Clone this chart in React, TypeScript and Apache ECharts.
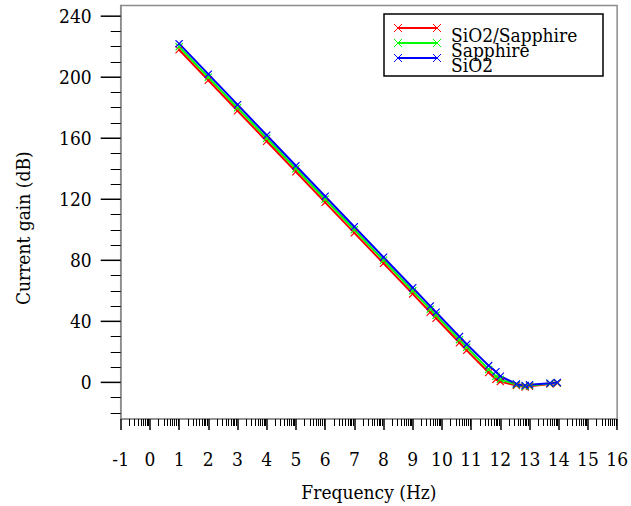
import React, { useEffect, useRef } from "react";
import * as echarts from "echarts";

const frequency = [1, 2, 3, 4, 5, 6, 7, 8, 9, 9.6, 9.8, 10.6, 10.85, 11.6, 11.85, 12.0, 12.55, 12.85, 13.0, 13.7, 13.95];
const siO2Sapphire = [218, 198, 178, 158, 138, 118, 98, 78, 58, 46, 42, 26, 21, 6.5, 2, 0.5, -2, -3, -2.5, -1, -0.5];
const sapphire = [220, 200, 180, 160, 140, 120, 100, 80, 60, 48, 44, 28, 23, 8.5, 4, 2, -1.5, -2.5, -2, -0.8, -0.2];
const siO2 = [222, 202, 182, 162, 142, 122, 102, 82, 62, 50, 46, 30, 25, 11, 7, 4, -1, -2, -1.5, -0.5, 0];

const seriesNames = ["SiO2/Sapphire", "Sapphire", "SiO2"];
const seriesColors = ["#ff0000", "#00ff00", "#0000ff"];

const yMajorTicks = [0, 40, 80, 120, 160, 200, 240];
const yMinorTicks = [-20, -10, 10, 20, 30, 50, 60, 70, 90, 100, 110, 130, 140, 150, 170, 180, 190, 210, 220, 230];
const xDecades = [-1, 0, 1, 2, 3, 4, 5, 6, 7, 8, 9, 10, 11, 12, 13, 14, 15];
const xMinorOffsets = [0.301, 0.477, 0.602, 0.699, 0.778, 0.845, 0.903, 0.954];
const xMinorTicks: number[] = [];
xDecades.forEach((d) => xMinorOffsets.forEach((o) => xMinorTicks.push(d + o)));

const FONT = "DejaVu Serif Condensed, DejaVu Serif";
const FS = 19;
const XMARK = "path://M0,1L1,0L5,4L9,0L10,1L6,5L10,9L9,10L5,6L1,10L0,9L4,5Z";

export default function App() {
  const ref = useRef<HTMLDivElement>(null);
  useEffect(() => {
    if (!ref.current) return;
    const chart = echarts.init(ref.current, undefined, { renderer: "svg" });
    const allSeries = [siO2Sapphire, sapphire, siO2];

    const legendTop = [28, 43, 58];
    const legendText = [35, 49.5, 65];
    const legendGraphics: any[] = [
      {
        type: "rect",
        shape: { x: 384, y: 14, width: 219, height: 62 },
        style: { fill: "#fff", stroke: "#000", lineWidth: 1.5 },
        z: 100,
      },
    ];
    seriesNames.forEach((name, i) => {
      const y = legendTop[i];
      const c = seriesColors[i];
      legendGraphics.push({
        type: "line",
        shape: { x1: 398, y1: y, x2: 437, y2: y },
        style: { stroke: c, lineWidth: 2 },
        z: 101,
      });
      [398, 437].forEach((cx) => {
        legendGraphics.push({
          type: "line",
          shape: { x1: cx - 4, y1: y - 4, x2: cx + 4, y2: y + 4 },
          style: { stroke: c, lineWidth: 1 },
          z: 101,
        });
        legendGraphics.push({
          type: "line",
          shape: { x1: cx - 4, y1: y + 4, x2: cx + 4, y2: y - 4 },
          style: { stroke: c, lineWidth: 1 },
          z: 101,
        });
      });
      legendGraphics.push({
        type: "text",
        x: 451,
        y: legendText[i],
        style: {
          text: name,
          fontFamily: FONT,
          fontSize: FS,
          fill: "#000",
          verticalAlign: "middle",
          align: "left",
        },
        z: 102,
      });
    });

    chart.setOption({
      animation: false,
      backgroundColor: "#fff",
      textStyle: { fontFamily: FONT },
      grid: {
        left: 120.7,
        right: 11,
        top: 5.5,
        bottom: 86,
        show: true,
        borderColor: "#8c8c8c",
        borderWidth: 1.5,
        backgroundColor: "transparent",
      },
      legend: { show: false },
      xAxis: [
        {
          type: "value",
          min: -1,
          max: 16,
          interval: 1,
          name: "Frequency (Hz)",
          nameLocation: "middle",
          nameGap: 63,
          nameTextStyle: { fontFamily: FONT, fontSize: FS, color: "#000" },
          axisLine: { show: true, onZero: false, lineStyle: { color: "#8c8c8c", width: 1.5 } },
          axisTick: { show: true, inside: false, length: 11, lineStyle: { color: "#000", width: 1.5 } },
          axisLabel: { margin: 30, fontFamily: FONT, fontSize: FS, color: "#000" },
          splitLine: { show: false },
        },
        {
          type: "value",
          min: -1,
          max: 16,
          position: "bottom",
          axisLine: { show: false, onZero: false },
          axisTick: { show: true, inside: false, length: 7, customValues: xMinorTicks.slice(), lineStyle: { color: "#000", width: 1 } },
          axisLabel: { show: false },
          splitLine: { show: false },
        },
      ],
      yAxis: [
        {
          type: "value",
          min: -24,
          max: 247,
          name: "Current gain (dB)",
          nameLocation: "middle",
          nameGap: 88,
          nameTextStyle: { fontFamily: FONT, fontSize: FS, color: "#000", padding: [0, 32, 0, 0] },
          axisLine: { show: true, onZero: false, lineStyle: { color: "#8c8c8c", width: 1.5 } },
          axisTick: { show: false },
          axisLabel: { margin: 29, customValues: yMajorTicks.slice(), fontFamily: FONT, fontSize: FS, color: "#000" },
          splitLine: { show: false },
        },
        {
          type: "value",
          min: -24,
          max: 247,
          position: "left",
          axisLine: { show: false, onZero: false },
          axisTick: {
            show: true,
            inside: false,
            length: 10,
            customValues: yMinorTicks.slice(),
            lineStyle: { color: "#000", width: 1 },
          },
          axisLabel: { show: false },
          splitLine: { show: false },
        },
      ],
      series: allSeries.map((vals, i) => ({
        name: seriesNames[i],
        type: "line",
        xAxisIndex: 0,
        yAxisIndex: 0,
        data: frequency.map((f, j) => [f, vals[j]]),
        symbol: XMARK,
        symbolSize: 8,
        showSymbol: true,
        lineStyle: { color: seriesColors[i], width: 2 },
        itemStyle: { color: seriesColors[i] },
      })),
    });

    const tickGraphics = yMajorTicks.map((v) => {
      const p = chart.convertToPixel({ xAxisIndex: 0, yAxisIndex: 0 }, [-1, v]) as number[];
      return {
        type: "rect",
        shape: { x: p[0] - 20, y: p[1] - 0.75, width: 20, height: 1.5 },
        style: { fill: "#000" },
        z: 300,
      };
    });
    chart.setOption({ graphic: [...legendGraphics, ...tickGraphics] });
    return () => chart.dispose();
  }, []);
  return (
    <div
      ref={ref}
      style={{ position: "fixed", left: 0, top: 0, width: 631, height: 506, background: "#fff" }}
    />
  );
}
